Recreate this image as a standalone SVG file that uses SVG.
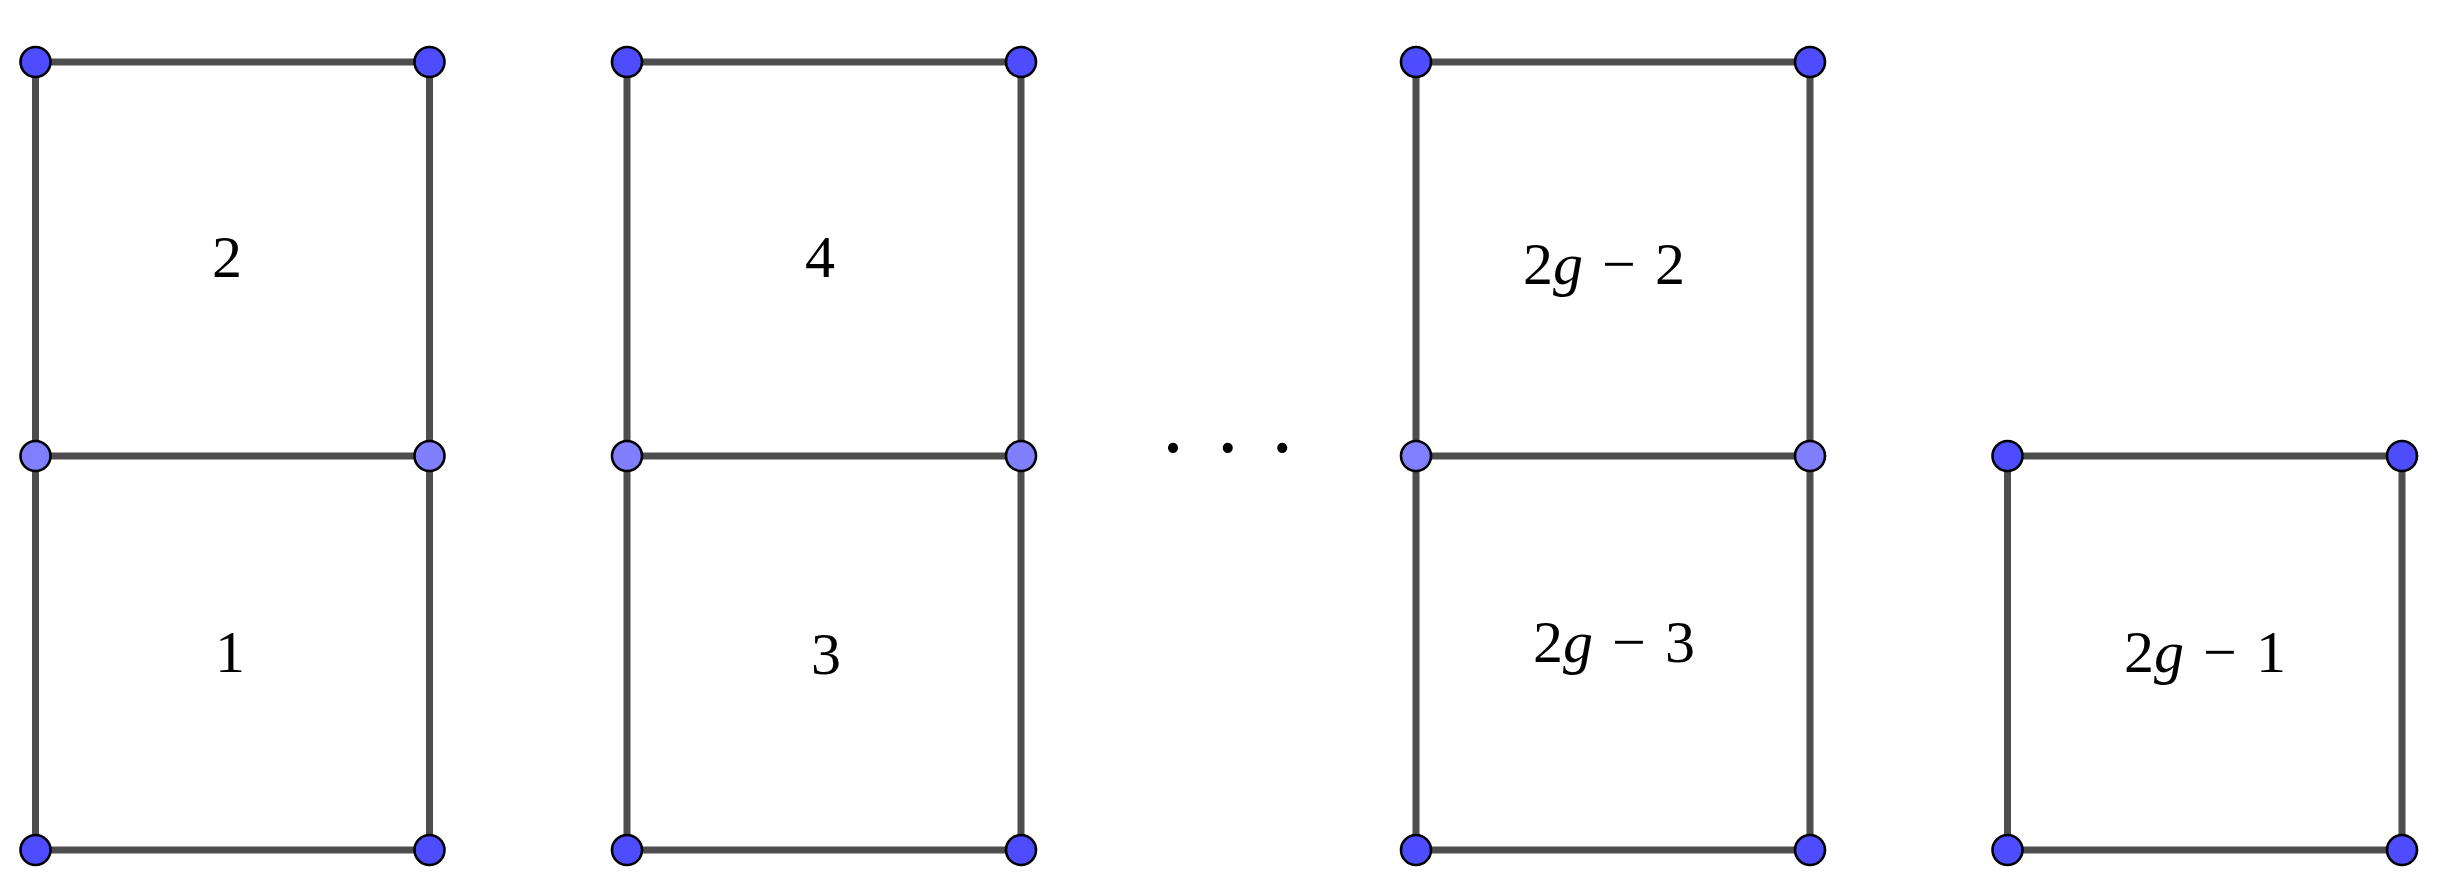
<svg xmlns="http://www.w3.org/2000/svg" width="2442" height="895" viewBox="0 0 2442 895">
<style>
.e{stroke:#4d4d4d;stroke-width:7;stroke-linecap:butt;fill:none}
.v{fill:#4d4dff;stroke:#000;stroke-width:2.6}
.m{fill:#7f7fff;stroke:#000;stroke-width:2.6}
.t{font-family:"Liberation Serif","Times New Roman",serif;font-size:60px;fill:#000;text-anchor:middle}
.i{font-style:italic}
.d{font-family:"Liberation Serif","Times New Roman",serif;font-size:86px;fill:#000}
</style>
<rect width="2442" height="895" fill="#fff"/>
<g id="connectors">
<line class="e" x1="35.5" y1="62" x2="429.5" y2="62"/>
<line class="e" x1="35.5" y1="456" x2="429.5" y2="456"/>
<line class="e" x1="35.5" y1="850" x2="429.5" y2="850"/>
<line class="e" x1="35.5" y1="62" x2="35.5" y2="850"/>
<line class="e" x1="429.5" y1="62" x2="429.5" y2="850"/>
<line class="e" x1="627" y1="62" x2="1021" y2="62"/>
<line class="e" x1="627" y1="456" x2="1021" y2="456"/>
<line class="e" x1="627" y1="850" x2="1021" y2="850"/>
<line class="e" x1="627" y1="62" x2="627" y2="850"/>
<line class="e" x1="1021" y1="62" x2="1021" y2="850"/>
<line class="e" x1="1416" y1="62" x2="1810" y2="62"/>
<line class="e" x1="1416" y1="456" x2="1810" y2="456"/>
<line class="e" x1="1416" y1="850" x2="1810" y2="850"/>
<line class="e" x1="1416" y1="62" x2="1416" y2="850"/>
<line class="e" x1="1810" y1="62" x2="1810" y2="850"/>
<line class="e" x1="2007.5" y1="456" x2="2402" y2="456"/>
<line class="e" x1="2007.5" y1="850" x2="2402" y2="850"/>
<line class="e" x1="2007.5" y1="456" x2="2007.5" y2="850"/>
<line class="e" x1="2402" y1="456" x2="2402" y2="850"/>
</g>
<g id="face-1"><text class="t" x="230" y="672">1</text></g>
<g id="face-2"><text class="t" x="227" y="277">2</text></g>
<g id="face-3"><text class="t" x="826" y="674">3</text></g>
<g id="face-4"><text class="t" x="820" y="277">4</text></g>
<g id="face-2g-2"><text class="t" x="1604" y="284" word-spacing="4">2<tspan class="i">g</tspan> − 2</text></g>
<g id="face-2g-3"><text class="t" x="1614" y="662" word-spacing="4">2<tspan class="i">g</tspan> − 3</text></g>
<g id="face-2g-1"><text class="t" x="2205" y="672" word-spacing="4">2<tspan class="i">g</tspan> − 1</text></g>
<g id="ellipsis"><text class="d" x="1162.3 1217 1271.6" y="452">...</text></g>
<g id="v-1-top-l"><circle class="v" cx="35.5" cy="62" r="15"/></g>
<g id="v-1-top-r"><circle class="v" cx="429.5" cy="62" r="15"/></g>
<g id="v-1-mid-l"><circle class="m" cx="35.5" cy="456" r="15"/></g>
<g id="v-1-mid-r"><circle class="m" cx="429.5" cy="456" r="15"/></g>
<g id="v-1-bot-l"><circle class="v" cx="35.5" cy="850" r="15"/></g>
<g id="v-1-bot-r"><circle class="v" cx="429.5" cy="850" r="15"/></g>
<g id="v-2-top-l"><circle class="v" cx="627" cy="62" r="15"/></g>
<g id="v-2-top-r"><circle class="v" cx="1021" cy="62" r="15"/></g>
<g id="v-2-mid-l"><circle class="m" cx="627" cy="456" r="15"/></g>
<g id="v-2-mid-r"><circle class="m" cx="1021" cy="456" r="15"/></g>
<g id="v-2-bot-l"><circle class="v" cx="627" cy="850" r="15"/></g>
<g id="v-2-bot-r"><circle class="v" cx="1021" cy="850" r="15"/></g>
<g id="v-3-top-l"><circle class="v" cx="1416" cy="62" r="15"/></g>
<g id="v-3-top-r"><circle class="v" cx="1810" cy="62" r="15"/></g>
<g id="v-3-mid-l"><circle class="m" cx="1416" cy="456" r="15"/></g>
<g id="v-3-mid-r"><circle class="m" cx="1810" cy="456" r="15"/></g>
<g id="v-3-bot-l"><circle class="v" cx="1416" cy="850" r="15"/></g>
<g id="v-3-bot-r"><circle class="v" cx="1810" cy="850" r="15"/></g>
<g id="v-4-top-l"><circle class="v" cx="2007.5" cy="456" r="15"/></g>
<g id="v-4-top-r"><circle class="v" cx="2402" cy="456" r="15"/></g>
<g id="v-4-bot-l"><circle class="v" cx="2007.5" cy="850" r="15"/></g>
<g id="v-4-bot-r"><circle class="v" cx="2402" cy="850" r="15"/></g>
</svg>
